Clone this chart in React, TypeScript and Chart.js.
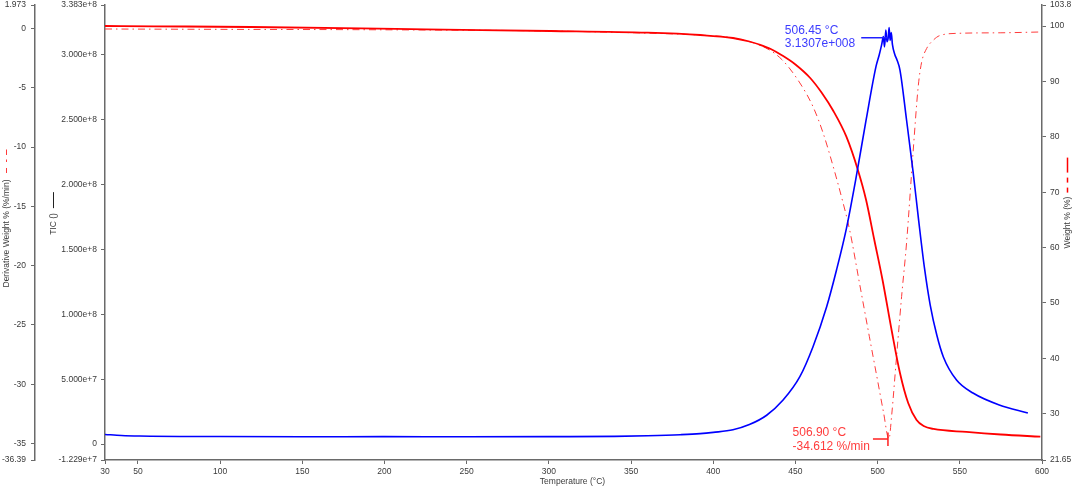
import React, { useEffect, useRef } from 'react';
import { Chart, registerables } from 'chart.js';

Chart.register(...registerables);

const FONT = '"Liberation Sans", Arial, Helvetica, sans-serif';

// ---------------- data ----------------
// Weight % (right axis, solid red)
const weightTemps = [30, 60, 119, 186, 225, 301, 360, 392, 412, 422, 428, 435, 442, 450, 459, 466, 473, 481, 488, 493, 498, 503, 508.5, 513.6, 518.6, 523.7, 528, 534, 554, 575, 599];
const weightValues = [100.01, 99.95, 99.83, 99.59, 99.41, 99.11, 98.8, 98.38, 97.84, 97.21, 96.67, 95.86, 94.68, 93.06, 90.62, 87.95, 84.7, 80.02, 74.01, 68.59, 61.37, 54.15, 45.12, 37.36, 31.94, 28.87, 27.79, 27.25, 26.71, 26.25, 25.86];

// Derivative Weight % (%/min) (outer left axis, red dash-dot)
const derivTemps = [30, 100, 186, 301, 360, 392, 412, 432, 442, 452.7, 460.7, 466.8, 473, 478, 483, 489, 495, 500, 503.5, 506.9, 508.5, 511.5, 514.6, 517.6, 521.6, 524.7, 526.7, 529.8, 533.8, 537.9, 550, 575, 600];
const derivValues = [-0.05, -0.08, -0.11, -0.22, -0.4, -0.56, -0.81, -1.65, -2.66, -4.6, -6.6, -8.8, -11.66, -14.19, -17.0, -21.5, -26.0, -29.7, -32.3, -34.612, -32.7, -27.7, -22.6, -18.1, -10.4, -4.9, -2.9, -1.7, -1.0, -0.6, -0.41, -0.37, -0.3];

// TIC (inner left axis, blue)
const ticTemps = [30, 40, 51, 100, 150, 200, 250, 300, 340, 360, 380, 392, 400, 412, 422, 432.5, 442.5, 452.7, 460.7, 469, 475, 481, 487, 493, 499, 501, 502.5, 503.5, 504.2, 505, 505.7, 506.45, 507, 507.6, 508.3, 509, 510.5, 511.8, 513.6, 517.6, 521.6, 525, 528.5, 532, 536, 540, 548, 558, 574, 591.4];
const ticValues = [7.4e6, 6.6e6, 6.2e6, 5.8e6, 5.6e6, 5.7e6, 5.6e6, 5.7e6, 5.9e6, 6.4e6, 7.2e6, 8.0e6, 9.0e6, 1.1e7, 1.5e7, 2.22e7, 3.39e7, 5.19e7, 7.5e7, 1.058e8, 1.341e8, 1.66e8, 2.06e8, 2.497e8, 2.908e8, 3.0e8, 3.08e8, 3.14e8, 3.06e8, 3.19e8, 3.1e8, 3.1307e8, 3.21e8, 3.11e8, 3.17e8, 3.08e8, 3.0e8, 2.96e8, 2.882e8, 2.497e8, 2.096e8, 1.72e8, 1.357e8, 1.071e8, 8.4e7, 6.71e7, 4.93e7, 3.93e7, 3.01e7, 2.39e7];

// peak annotations
const ticPeakTemp = 506.45;
const ticPeakValue = 3.1307e8;
const ticPeakLabels = ['506.45 °C', '3.1307e+008'];
const derivPeakTemp = 506.9;
const derivPeakValue = -34.612;
const derivPeakLabels = ['506.90 °C', '-34.612 %/min'];

// axes
const xMin = 30;
const xMax = 600;
const xTicks = [30, 50, 100, 150, 200, 250, 300, 350, 400, 450, 500, 550, 600];
const xTitle = 'Temperature (°C)';

const derivMin = -36.39;
const derivMax = 1.973;
const derivTicks = [-36.39, -35, -30, -25, -20, -15, -10, -5, 0, 1.973];
const derivTickLabels = ['-36.39', '-35', '-30', '-25', '-20', '-15', '-10', '-5', '0', '1.973'];
const derivTitle = 'Derivative Weight % (%/min)';

const ticMin = -1.229e7;
const ticMax = 3.383e8;
const ticTicks = [-1.229e7, 0, 5e7, 1e8, 1.5e8, 2e8, 2.5e8, 3e8, 3.383e8];
const ticTickLabels = ['-1.229e+7', '0', '5.000e+7', '1.000e+8', '1.500e+8', '2.000e+8', '2.500e+8', '3.000e+8', '3.383e+8'];
const ticTitle = 'TIC ()';

const weightMin = 21.65;
const weightMax = 103.8;
const weightTicks = [21.65, 30, 40, 50, 60, 70, 80, 90, 100, 103.8];
const weightTickLabels = ['21.65', '30', '40', '50', '60', '70', '80', '90', '100', '103.8'];
const weightTitle = 'Weight % (%)';

// ---------------- styling ----------------
const AXIS_COLOR = '#6a6a6a';
const TEXT_COLOR = '#3a3a3a';
const TICK_FONT = { family: FONT, size: 8.5 };

const toPoints = (xs: number[], ys: number[]) => xs.map((x, i) => ({ x, y: ys[i] }));

const fixedAxis = (ticks: number[], labels: string[], size: number, vertical: boolean, pad: number) => ({
  afterBuildTicks: (scale: any) => {
    scale.ticks = ticks.map((v) => ({ value: v }));
  },
  afterFit: (scale: any) => {
    if (vertical) {
      scale.width = size;
      scale.paddingTop = 0;
      scale.paddingBottom = 0;
    } else {
      scale.height = size;
      scale.paddingLeft = 0;
      scale.paddingRight = 0;
    }
  },
  grid: { drawOnChartArea: false, drawTicks: true, tickLength: 4, color: AXIS_COLOR, lineWidth: 1 },
  border: { display: true, color: AXIS_COLOR, width: 1.5 },
  ticks: {
    autoSkip: false,
    maxRotation: 0,
    minRotation: 0,
    padding: pad,
    color: TEXT_COLOR,
    font: TICK_FONT,
    callback: (_v: any, i: number) => labels[i],
  },
});

const overlayPlugin = {
  id: 'overlay',
  afterDraw(chart: any) {
    const ctx: CanvasRenderingContext2D = chart.ctx;
    const { x, yDeriv, yTIC, yW } = chart.scales;
    const area = chart.chartArea;
    ctx.save();

    // ---- axis titles ----
    ctx.font = `8.5px ${FONT}`;
    ctx.fillStyle = TEXT_COLOR;
    ctx.textAlign = 'center';
    ctx.textBaseline = 'middle';
    ctx.fillText(xTitle, (area.left + area.right) / 2 - 1, area.bottom + 22);

    const vTitle = (text: string, cx: number, cy: number) => {
      ctx.save();
      ctx.translate(cx, cy);
      ctx.rotate(-Math.PI / 2);
      ctx.fillText(text, 0, 0);
      ctx.restore();
      return cy - ctx.measureText(text).width / 2; // top end of text
    };
    const vSeg = (cx: number, y0: number, y1: number, color: string, w: number) => {
      ctx.beginPath();
      ctx.strokeStyle = color;
      ctx.lineWidth = w;
      ctx.moveTo(cx, y0);
      ctx.lineTo(cx, y1);
      ctx.stroke();
    };
    const midY = (area.top + area.bottom) / 2;

    // derivative title + dash-dot indicator
    const dx = yDeriv.left + 6.5;
    const dTop = vTitle(derivTitle, dx, midY + 1);
    vSeg(dx, dTop - 30, dTop - 24.5, '#ff3b3b', 1);
    vSeg(dx, dTop - 20, dTop - 17.5, '#ff3b3b', 1);
    vSeg(dx, dTop - 11.5, dTop - 6.5, '#ff3b3b', 1);

    // TIC title + solid black indicator
    const tx = yTIC.left + 18.5;
    const tTop = vTitle(ticTitle, tx, midY - 8.5);
    vSeg(tx, tTop - 21, tTop - 5, '#222', 1);

    // Weight title + indicator
    const wx = yW.right - 12.5;
    const wTop = vTitle(weightTitle, wx, midY - 10);
    vSeg(wx, wTop - 39, wTop - 24, '#ff0000', 1.5);
    vSeg(wx, wTop - 19, wTop - 14, '#ff0000', 1.5);
    vSeg(wx, wTop - 9, wTop - 4, '#ff0000', 1.5);

    // ---- peak annotations ----
    ctx.font = `12px ${FONT}`;
    ctx.textAlign = 'left';

    // TIC peak (blue)
    const bx = x.getPixelForValue(ticPeakTemp);
    const by = yTIC.getPixelForValue(ticPeakValue);
    const bLineStart = bx - 27;
    ctx.strokeStyle = '#2020ff';
    ctx.lineWidth = 1.5;
    ctx.beginPath();
    ctx.moveTo(bLineStart, by);
    ctx.lineTo(bx, by);
    ctx.stroke();
    const bw = ctx.measureText(ticPeakLabels[1]).width;
    const btx = bLineStart - 6 - bw;
    ctx.fillStyle = '#3c3cff';
    ctx.fillText(ticPeakLabels[0], btx, by - 7);
    ctx.fillText(ticPeakLabels[1], btx, by + 6);

    // derivative min (red)
    const rx = x.getPixelForValue(derivPeakTemp);
    const ry = yDeriv.getPixelForValue(derivPeakValue);
    const rLineStart = rx - 16;
    ctx.strokeStyle = '#ff2020';
    ctx.lineWidth = 1.5;
    ctx.beginPath();
    ctx.moveTo(rLineStart, ry);
    ctx.lineTo(rx - 1, ry);
    ctx.moveTo(rx - 1, ry - 6.5);
    ctx.lineTo(rx - 1, ry + 7);
    ctx.stroke();
    const rw = ctx.measureText(derivPeakLabels[1]).width;
    const rtx = rLineStart - 3 - rw;
    ctx.fillStyle = '#ff3c3c';
    ctx.fillText(derivPeakLabels[0], rtx, ry - 6.5);
    ctx.fillText(derivPeakLabels[1], rtx, ry + 7.5);

    ctx.restore();
  },
};

export default function App() {
  const canvasRef = useRef<HTMLCanvasElement | null>(null);

  useEffect(() => {
    if (!canvasRef.current) return;
    Chart.defaults.font.family = FONT;
    const chart = new Chart(canvasRef.current, {
      type: 'line',
      data: {
        datasets: [
          {
            label: 'TIC',
            data: toPoints(ticTemps, ticValues),
            yAxisID: 'yTIC',
            borderColor: '#0000ff',
            borderWidth: 1.6,
            pointRadius: 0,
            cubicInterpolationMode: 'monotone',
            order: 0,
          },
          {
            label: 'Weight %',
            data: toPoints(weightTemps, weightValues),
            yAxisID: 'yW',
            borderColor: '#ff0000',
            borderWidth: 1.8,
            pointRadius: 0,
            cubicInterpolationMode: 'monotone',
            order: 1,
          },
          {
            label: 'Derivative Weight %',
            data: toPoints(derivTemps, derivValues),
            yAxisID: 'yDeriv',
            borderColor: '#ff3b3b',
            borderWidth: 1,
            borderDash: [7, 4, 1.5, 4],
            pointRadius: 0,
            cubicInterpolationMode: 'monotone',
            order: 2,
          },
        ],
      },
      options: {
        animation: false,
        responsive: true,
        maintainAspectRatio: false,
        devicePixelRatio: 1,
        events: [],
        layout: { padding: { top: 5, left: 0, right: 0, bottom: 0 } },
        plugins: { legend: { display: false }, tooltip: { enabled: false }, title: { display: false } },
        scales: {
          x: {
            type: 'linear',
            position: 'bottom',
            min: xMin,
            max: xMax,
            ...fixedAxis(xTicks, xTicks.map(String), 27, false, 3),
          },
          yDeriv: {
            type: 'linear',
            position: 'left',
            weight: 2,
            min: derivMin,
            max: derivMax,
            ...fixedAxis(derivTicks, derivTickLabels, 35, true, 5),
          },
          yTIC: {
            type: 'linear',
            position: 'left',
            weight: 1,
            min: ticMin,
            max: ticMax,
            ...fixedAxis(ticTicks, ticTickLabels, 70, true, 4),
          },
          yW: {
            type: 'linear',
            position: 'right',
            min: weightMin,
            max: weightMax,
            ...fixedAxis(weightTicks, weightTickLabels, 38, true, 4),
          },
        } as any,
      },
      plugins: [overlayPlugin],
    } as any);
    return () => chart.destroy();
  }, []);

  return (
    <div style={{ position: 'fixed', left: 0, top: 0, width: 1080, height: 487, background: '#fff' }}>
      <canvas ref={canvasRef} />
    </div>
  );
}
